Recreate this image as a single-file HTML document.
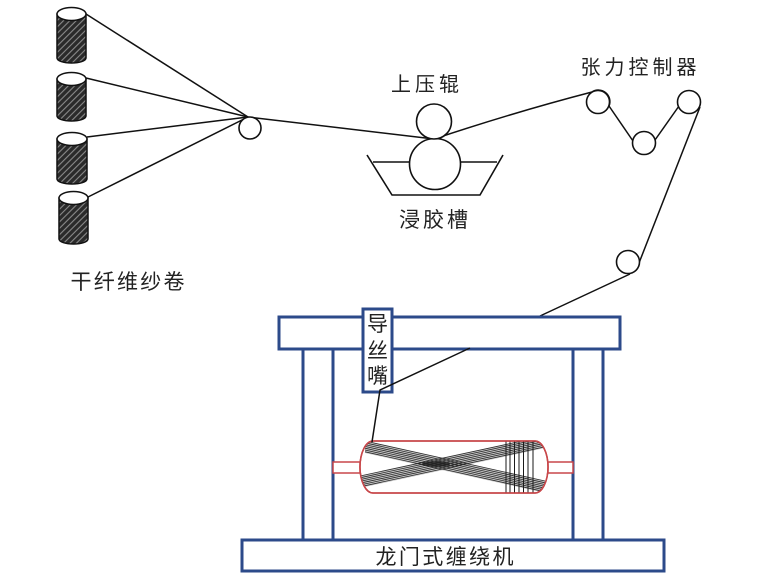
<!DOCTYPE html>
<html><head><meta charset="utf-8"><style>
html,body{margin:0;padding:0;background:#fff;}
svg{display:block;}
text{font-family:"Liberation Sans","Noto Sans CJK SC",sans-serif;fill:#222;}
</style></head><body>
<svg width="771" height="584" viewBox="0 0 771 584" xmlns="http://www.w3.org/2000/svg">
<defs>
<pattern id="hatch" patternUnits="userSpaceOnUse" width="4.5" height="4.5" patternTransform="rotate(45)">
<rect width="4.5" height="4.5" fill="#2a2a2a"/>
<line x1="1" y1="0" x2="1" y2="4.5" stroke="#8a8a8a" stroke-width="1.1"/>
</pattern>
<clipPath id="vclip"><path d="M373,441 L535,441 A13,26 0 0 1 535,493 L373,493 A13,26 0 0 1 373,441 Z"/></clipPath>
</defs>

<!-- spools -->
<g stroke="#111" stroke-width="1.5">
<path d="M57,14 L57,58 A14.5,5 0 0 0 86,58 L86,14 Z" fill="url(#hatch)"/>
<ellipse cx="71.5" cy="14" rx="14.5" ry="6.5" fill="#fff"/>
<path d="M57,79 L57,116 A14.5,5 0 0 0 86,116 L86,79 Z" fill="url(#hatch)"/>
<ellipse cx="71.5" cy="79" rx="14.5" ry="6.5" fill="#fff"/>
<path d="M57,139 L57,179 A15,5 0 0 0 87,179 L87,139 Z" fill="url(#hatch)"/>
<ellipse cx="72" cy="139" rx="15" ry="6.5" fill="#fff"/>
<path d="M59,198 L59,239 A14.5,5 0 0 0 88,239 L88,198 Z" fill="url(#hatch)"/>
<ellipse cx="73.5" cy="198" rx="14.5" ry="6.5" fill="#fff"/>
</g>

<!-- fiber lines -->
<g stroke="#111" stroke-width="1.5" fill="none">
<line x1="86" y1="14" x2="248" y2="117"/>
<line x1="86" y1="78" x2="248" y2="117"/>
<line x1="87" y1="137" x2="248" y2="117"/>
<line x1="88" y1="197" x2="248" y2="117"/>
<line x1="248" y1="117" x2="434" y2="139"/>
<path d="M434,139 Q515,112 592,92"/>
<path d="M592,92 A11.5,11.5 0 0 1 609,106"/>
<line x1="609" y1="106" x2="633" y2="141"/>
<line x1="655" y1="140" x2="679" y2="106"/>
<line x1="700" y1="107" x2="639" y2="263"/>
<line x1="630" y1="274" x2="540" y2="316"/>
</g>

<!-- rollers -->
<g stroke="#111" stroke-width="1.6" fill="#fff">
<circle cx="250" cy="128" r="11"/>
<circle cx="598" cy="102" r="11.5"/>
<circle cx="644" cy="143" r="11.5"/>
<circle cx="689" cy="102" r="11.5"/>
<circle cx="628" cy="262" r="11.5"/>
</g>

<!-- trough -->
<g stroke="#111" stroke-width="1.6" fill="none">
<polyline points="367,155 392,195 480,195 503,155"/>
<line x1="373" y1="162" x2="410" y2="162"/>
<line x1="460" y1="162" x2="497" y2="162"/>
<circle cx="435" cy="164" r="25.5" fill="#fff"/>
<circle cx="434" cy="121.5" r="17.5" fill="#fff"/>
</g>

<!-- gantry -->
<g stroke="#2c4a8a" stroke-width="3" fill="#fff">
<rect x="242" y="540" width="422" height="31"/>
<rect x="303" y="349" width="30" height="191"/>
<rect x="573" y="349" width="30" height="191"/>
<rect x="279" y="317" width="341" height="32"/>
<rect x="363" y="309" width="29" height="83"/>
</g>

<!-- vessel -->
<g stroke="#c8474a" stroke-width="1.5" fill="#fff">
<rect x="333" y="462" width="27" height="11"/>
<rect x="548" y="462" width="25" height="11"/>
<path d="M373,441 L535,441 A13,26 0 0 1 535,493 L373,493 A13,26 0 0 1 373,441 Z"/>
</g>
<g clip-path="url(#vclip)">
<polygon points="365,441 545,481 545,493 365,453" fill="#9a9a9a" opacity="0.55"/>
<polygon points="360,476 545,436 545,448 360,488" fill="#9a9a9a" opacity="0.55"/>
<g stroke="#2a2a2a" stroke-width="0.8">
<line x1="365" y1="441" x2="545" y2="481"/>
<line x1="365" y1="442.8" x2="545" y2="482.8"/>
<line x1="365" y1="444.6" x2="545" y2="484.6"/>
<line x1="365" y1="446.4" x2="545" y2="486.4"/>
<line x1="365" y1="448.2" x2="545" y2="488.2"/>
<line x1="365" y1="450" x2="545" y2="490"/>
<line x1="365" y1="451.8" x2="545" y2="491.8"/>
<line x1="360" y1="476" x2="545" y2="436"/>
<line x1="360" y1="477.8" x2="545" y2="437.8"/>
<line x1="360" y1="479.6" x2="545" y2="439.6"/>
<line x1="360" y1="481.4" x2="545" y2="441.4"/>
<line x1="360" y1="483.2" x2="545" y2="443.2"/>
<line x1="360" y1="485" x2="545" y2="445"/>
<line x1="360" y1="486.8" x2="545" y2="446.8"/>
</g>
<ellipse cx="436" cy="464" rx="14" ry="2.6" fill="#222" opacity="0.8"/>
<g stroke="#1a1a1a" stroke-width="1">
<line x1="506" y1="441" x2="506" y2="493"/>
<line x1="510" y1="441" x2="510" y2="493"/>
<line x1="514.5" y1="441" x2="514.5" y2="493"/>
<line x1="519" y1="441" x2="519" y2="493"/>
<line x1="523.5" y1="441" x2="523.5" y2="493"/>
<line x1="528" y1="441" x2="528" y2="493"/>
<line x1="533" y1="441" x2="533" y2="493"/>
</g>
</g>
<path d="M373,441 L535,441 A13,26 0 0 1 535,493 L373,493 A13,26 0 0 1 373,441 Z" fill="none" stroke="#c8474a" stroke-width="1.5"/>

<!-- fiber to nozzle and vessel -->
<g stroke="#111" stroke-width="1.5" fill="none">
<polyline points="470,348 380,390 372,442"/>
</g>

<!-- labels -->
<text x="425" y="91" font-size="20" text-anchor="middle" textLength="68" lengthAdjust="spacing">上压辊</text>
<text x="433.5" y="227" font-size="21" text-anchor="middle" textLength="69" lengthAdjust="spacing">浸胶槽</text>
<text x="638.5" y="74" font-size="20" text-anchor="middle" textLength="116" lengthAdjust="spacing">张力控制器</text>
<text x="127.5" y="289" font-size="21" text-anchor="middle" textLength="114" lengthAdjust="spacing">干纤维纱卷</text>
<text x="444.5" y="564" font-size="21" text-anchor="middle" textLength="138" lengthAdjust="spacing">龙门式缠绕机</text>
<text x="377.5" y="331" font-size="21" text-anchor="middle">导</text>
<text x="377.5" y="358" font-size="21" text-anchor="middle">丝</text>
<text x="377.5" y="383" font-size="21" text-anchor="middle">嘴</text>
</svg>
</body></html>
